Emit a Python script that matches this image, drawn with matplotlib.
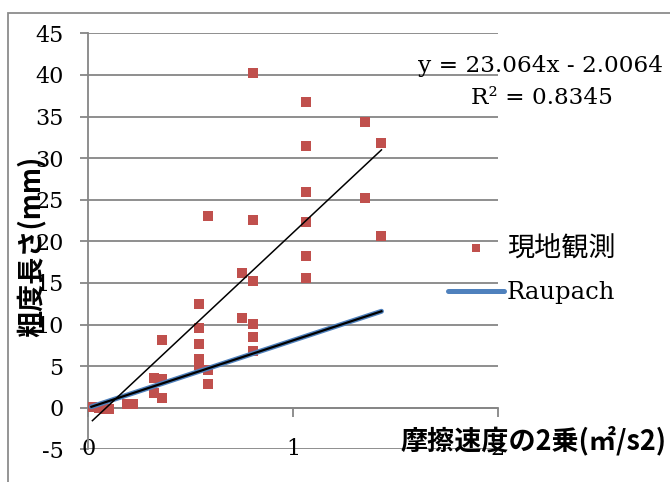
import matplotlib.pyplot as plt
from matplotlib.lines import Line2D
from matplotlib.patches import Rectangle
import numpy as np

plt.rcParams['font.family'] = ['DejaVu Serif', 'Noto Sans CJK JP']
plt.rcParams['axes.unicode_minus'] = False

# 現地観測 (friction velocity squared vs roughness length)
obs_x = [0.02, 0.05, 0.08, 0.10,
         0.19, 0.22,
         0.32, 0.36, 0.32, 0.36, 0.36,
         0.54, 0.54, 0.54, 0.54, 0.54, 0.585, 0.585, 0.585,
         0.75, 0.75,
         0.805, 0.805, 0.805, 0.805, 0.805, 0.805,
         1.062, 1.062, 1.062, 1.062, 1.062, 1.062,
         1.353, 1.353,
         1.431, 1.431]
obs_y = [0.1, 0.0, -0.1, -0.1,
         0.5, 0.4,
         3.6, 3.5, 1.8, 1.2, 8.1,
         12.5, 9.6, 7.7, 5.9, 5.2, 4.6, 2.9, 23.0,
         16.2, 10.8,
         40.3, 22.6, 15.2, 10.1, 8.5, 6.8,
         36.8, 31.5, 25.9, 22.3, 18.3, 15.6,
         34.3, 25.2,
         31.8, 20.7]

# Raupach model line
rau_x = [0.015, 1.431]
rau_y = [0.12, 11.6]

# linear fit of the observations
slope, intercept, r2 = 23.064, -2.0064, 0.8345

red = '#C0504D'
blue = '#4F81BD'
grey = '#868686'

fig = plt.figure(figsize=(6.7, 4.82), dpi=100)
ax = fig.add_axes([88.3 / 670, 1 - 449.4 / 482, 409.7 / 670, 416 / 482])

ax.plot(obs_x, obs_y, 's', color=red, markersize=7.2, markeredgewidth=0,
        zorder=3)
ax.plot(rau_x, rau_y, '-', color=blue, lw=3.6, solid_capstyle='round',
        zorder=4)
# trendline of the Raupach series (same line)
ax.plot(rau_x, rau_y, '-', color='black', lw=1.6, zorder=5)

fx = np.array([min(obs_x), max(obs_x)])
ax.plot(fx, slope * fx + intercept, '-', color='black', lw=1.1, zorder=5)

ax.set_xlim(0, 2)
ax.set_ylim(-5, 45)
ax.set_yticks(np.arange(-5, 46, 5))
ax.set_xticks([0, 1, 2])
ax.yaxis.grid(True, color=grey, lw=1.3)
ax.set_axisbelow(True)

for s in ['top', 'right']:
    ax.spines[s].set_visible(False)
ax.spines['left'].set_color(grey)
ax.spines['left'].set_linewidth(1.3)
ax.spines['bottom'].set_position(('data', 0))
ax.spines['bottom'].set_color(grey)
ax.spines['bottom'].set_linewidth(1.3)

ax.tick_params(axis='y', direction='out', length=5.8, width=1.3, color=grey,
               pad=12, labelsize=16)
ax.tick_params(axis='x', direction='out', length=6.5, width=1.3, color=grey,
               labelbottom=False)
for xt in [0, 1, 2]:
    ax.text(xt, -5, str(xt), ha='center', va='center', fontsize=16,
            zorder=1)

# chart area border
fig.patches.append(Rectangle((8 / 670, -0.2), 1.2, 1.2 - 13 / 482,
                             transform=fig.transFigure, fill=False,
                             ec='#8C8C8C', lw=1.3))

fig.text(31 / 670, 1 - 246 / 482, '粗度長さ(mm)', rotation=90,
         ha='center', va='center', fontsize=19.5, fontweight='bold',
         family=['Noto Sans CJK JP'])
fig.text(533 / 670, 1 - 441 / 482, '摩擦速度の2乗(㎡/s2)',
         ha='center', va='center', fontsize=19.5, fontweight='bold',
         family=['Noto Sans CJK JP'])

fig.text(541 / 670, 1 - 66 / 482, 'y = %.3fx - %.4f' % (slope, -intercept),
         ha='center', va='center', fontsize=16.7)
fig.text(542 / 670, 1 - 98 / 482, 'R² = %.4f' % r2,
         ha='center', va='center', fontsize=16.7)

handles = [Line2D([], [], ls='none', marker='s', color=red, markersize=6,
                  markeredgewidth=0),
           Line2D([], [], color=blue, lw=3.6, solid_capstyle='round')]
leg = fig.legend(handles, ['現地観測', 'Raupach'], loc='upper left',
                 bbox_to_anchor=(448 / 670, 1 - 236 / 482),
                 frameon=False, fontsize=17.5, handlelength=2.3,
                 handletextpad=0.12, labelspacing=0.75, borderpad=0,
                 borderaxespad=0)
leg.get_texts()[0].set_fontsize(19.5)

fig.savefig('out.png', dpi=100)
